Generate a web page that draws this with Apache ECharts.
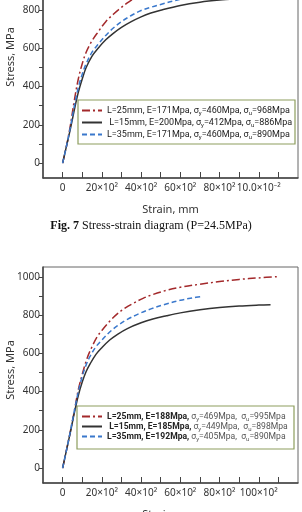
<!DOCTYPE html>
<html><head><meta charset="utf-8">
<script src="https://cdn.jsdelivr.net/npm/echarts@6/dist/echarts.min.js"></script>
<style>html,body{margin:0;padding:0;background:#fff;overflow:hidden;width:302px;height:512px;position:relative}
#c{position:absolute;left:0;top:-40px;width:302px;height:552px;}</style>
</head><body><div id="c"></div>
<script>
// ---- Fig. 7 (top chart) data ----
const topRedStrain   = [0,2,4,6,8,10,12,15,18,22,26,30,34,38,45,55,70,85,100];
const topRedStress   = [0,90,200,330,440,520,580,640,685,740,780,815,845,868,898,925,948,962,968];
const topBlackStrain = [0,2,4,6,8,10,12,15,18,22,26,30,35,40,45,50,60,70,80,90,100,110,118];
const topBlackStress = [0,90,180,280,370,440,500,560,600,645,680,710,740,765,785,800,825,842,853,860,866,872,876];
const topBlueStrain  = [0,2,4,6,8,10,12,15,18,22,26,30,35,40,45,50,58,65,75,85];
const topBlueStress  = [0,90,190,300,395,465,520,580,620,668,708,740,772,798,815,830,852,866,880,890];

// ---- bottom chart data ----
const botRedStrain   = [0,2,4,6,8,10,12.5,15,17.5,20,24,28,32,36,41,46,53,60,70,80,90,100,110];
const botRedStress   = [0,95,195,300,410,490,575,635,685,720,768,808,838,862,888,908,930,946,962,976,987,995,1002];
const botBlackStrain = [0,2,4,6,8,10,12,14,17,20,24,28,33,40,46,53,60,70,80,90,100,106];
const botBlackStress = [0,95,190,290,380,450,505,545,595,630,670,700,730,760,780,797,812,828,840,848,853,855];
const botBlueStrain  = [0,2,4,6,8,10,12,14,17,20,24,28,33,39,45,52,60,66,71];
const botBlueStress  = [0,95,195,300,400,480,540,585,635,670,712,745,778,808,833,856,878,890,898];

// ---- ticks & labels ----
const xTickValues  = [0,10,20,30,40,50,60,70,80,90,100,110];
const xLabelValues = [0,20,40,60,80,100];
const topXLabels   = ['0','20×10²','40×10²','60×10²','80×10²','10.0×10⁻²'];
const botXLabels   = ['0','20×10²','40×10²','60×10²','80×10²','100×10²'];
const yTickValues  = [0,100,200,300,400,500,600,700,800,900,1000];
const yLabelValues = [0,200,400,600,800,1000];

// ---- legend texts ----
const topLegendHead = ['L=25mm, E=171Mpa,', ' L=15mm, E=200Mpa,', 'L=35mm, E=171Mpa,'];
const topSigmaY = ['460', '412', '460'];
const topSigmaU = ['968', '886', '890'];
const botLegendHead = ['L=25mm, E=188Mpa,', ' L=15mm, E=185Mpa,', 'L=35mm, E=192Mpa,'];
const botSigmaY = ['469', '449', '405'];
const botSigmaU = ['995', '898', '890'];

const caption7 = 'Stress-strain diagram (P=24.5MPa)';

const OY = 40; // container is shifted up by this many px
const FONT = '"Noto Sans", "DejaVu Sans", sans-serif';
const LFONT = 'Roboto, "Noto Sans", sans-serif';
const RED = '#a3292b', BLACK = '#333333', BLUE = '#3a78cc';
const zip = (a, b) => a.map((v, i) => [v, b[i]]);

const topNames = topLegendHead.map((h, i) => 'T' + i + h);
const botNames = botLegendHead.map((h, i) => 'B' + i + h);

function legendFormatter(heads, sy, su, bold) {
  return function (name) {
    const i = +name.charAt(1);
    const h = bold ? '{h|' + heads[i] + '}' : '{n|' + heads[i] + '}';
    return h + '{n| σ}{s|y}{n|=' + sy[i] + 'Mpa,' + (bold ? '  ' : ' ') + 'σ}{s|u}{n|=' + su[i] + 'Mpa}';
  };
}
function legendRich(boldHead) {
  return {
    h: {fontSize: 8.6, fontWeight: 'bold', color: '#222', fontFamily: LFONT, lineHeight: 11},
    n: {fontSize: boldHead ? 8.6 : 9, color: boldHead ? '#555' : '#222', fontFamily: LFONT, lineHeight: 11},
    s: {fontSize: 6, color: boldHead ? '#555' : '#222', fontFamily: LFONT, verticalAlign: 'bottom', lineHeight: 8}
  };
}

function xAxis(gi, labels) {
  return {
    gridIndex: gi, type: 'value', min: -10, max: 120,
    axisLine: {show: true, onZero: false, lineStyle: {color: '#444', width: 1.5}},
    axisTick: {show: true, inside: true, length: 6, customValues: xTickValues, lineStyle: {color: '#444'}},
    axisLabel: {customValues: xLabelValues, margin: 5, fontSize: 10, color: '#333', fontFamily: FONT,
      formatter: v => labels[xLabelValues.indexOf(v)]},
    splitLine: {show: false},
    name: 'Strain, mm', nameLocation: 'middle', nameGap: 26,
    nameTextStyle: {fontSize: 11, color: '#333', fontFamily: FONT}
  };
}
function yAxis(gi) {
  return {
    gridIndex: gi, type: 'value', min: -78, max: 1052,
    axisLine: {show: true, onZero: false, lineStyle: {color: '#444', width: 1.5}},
    axisTick: {show: true, inside: false, length: 4, customValues: yTickValues, lineStyle: {color: '#444'}},
    axisLabel: {customValues: yLabelValues, margin: 3, fontSize: 10, color: '#333', fontFamily: FONT,
      formatter: v => String(v)},
    splitLine: {show: false}
  };
}
function line(name, gi, data, color, type) {
  return {
    name: name, type: 'line', xAxisIndex: gi, yAxisIndex: gi, data: data,
    smooth: 0.35, symbol: 'none', showSymbol: false,
    lineStyle: {color: color, width: 1.5, type: type}, itemStyle: {color: color}
  };
}
const DASHDOT = [8, 3, 2, 3], DASH = [5, 3];

const legendCommon = {orient: 'vertical', itemWidth: 20, itemHeight: 10, padding: 0, z: 5,
  itemStyle: {opacity: 0, borderWidth: 0}};

const chart = echarts.init(document.getElementById('c'), null, {renderer: 'canvas'});
chart.setOption({
  animation: false,
  backgroundColor: '#fff',
  grid: [
    {left: 43, top: 2, width: 255, height: 216, show: true, borderColor: '#666', borderWidth: 1,
      containLabel: false, outerBoundsMode: 'none'},
    {left: 43, top: 267 + OY, width: 255, height: 216, show: true, borderColor: '#666', borderWidth: 1,
      containLabel: false, outerBoundsMode: 'none'}
  ],
  xAxis: [xAxis(0, topXLabels), xAxis(1, botXLabels)],
  yAxis: [yAxis(0), yAxis(1)],
  legend: [
    Object.assign({}, legendCommon, {data: topNames, left: 81, top: 106 + OY, itemGap: 2,
      formatter: legendFormatter(topLegendHead, topSigmaY, topSigmaU, false),
      textStyle: {rich: legendRich(false), fontSize: 9, fontFamily: LFONT}}),
    Object.assign({}, legendCommon, {data: botNames, left: 81, top: 412 + OY, itemGap: 0,
      formatter: legendFormatter(botLegendHead, botSigmaY, botSigmaU, true),
      textStyle: {rich: legendRich(true), fontSize: 9, fontFamily: LFONT}})
  ],
  graphic: [
    {type: 'rect', shape: {x: 78, y: 100 + OY, width: 217, height: 44}, style: {fill: '#fff', stroke: '#8d9d5e', lineWidth: 1.2}, z: 3},
    {type: 'rect', shape: {x: 77, y: 406 + OY, width: 217, height: 43}, style: {fill: '#fff', stroke: '#8d9d5e', lineWidth: 1.2}, z: 3},
    {type: 'text', x: 11, y: 57 + OY, rotation: Math.PI / 2,
      style: {text: 'Stress, MPa', align: 'center', verticalAlign: 'middle', fontSize: 11, fontFamily: FONT, fill: '#333'}},
    {type: 'text', x: 11, y: 370 + OY, rotation: Math.PI / 2,
      style: {text: 'Stress, MPa', align: 'center', verticalAlign: 'middle', fontSize: 11, fontFamily: FONT, fill: '#333'}},
    {type: 'text', x: 151, y: 226 + OY,
      style: {text: '{b|Fig. 7} ' + caption7, align: 'center', verticalAlign: 'middle',
        fontSize: 12, fontFamily: '"Liberation Serif", "DejaVu Serif", serif', fill: '#111',
        rich: {b: {fontWeight: 'bold', fontSize: 12, fontFamily: '"Liberation Serif", serif', fill: '#111'}}}}
  ],
  series: [
    line(topNames[0], 0, zip(topRedStrain, topRedStress), RED, DASHDOT),
    line(topNames[1], 0, zip(topBlackStrain, topBlackStress), BLACK, 'solid'),
    line(topNames[2], 0, zip(topBlueStrain, topBlueStress), BLUE, DASH),
    line(botNames[0], 1, zip(botRedStrain, botRedStress), RED, DASHDOT),
    line(botNames[1], 1, zip(botBlackStrain, botBlackStress), BLACK, 'solid'),
    line(botNames[2], 1, zip(botBlueStrain, botBlueStress), BLUE, DASH)
  ]
});
</script></body></html>
